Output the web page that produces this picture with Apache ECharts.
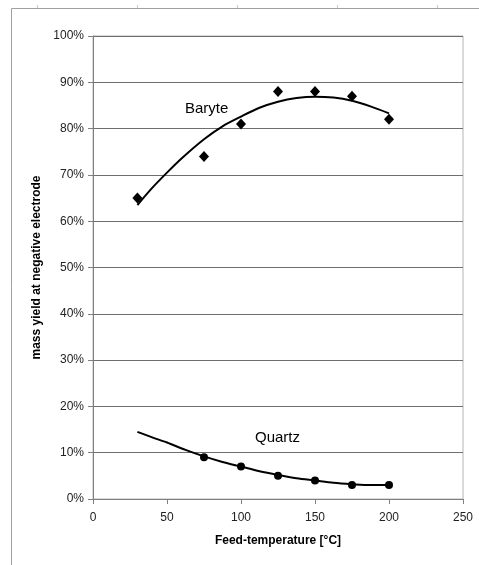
<!DOCTYPE html>
<html>
<head>
<meta charset="utf-8">
<script src="https://cdn.jsdelivr.net/npm/echarts@6/dist/echarts.min.js"></script>
<style>
html,body{margin:0;padding:0;background:#fff;}
#chart{width:479px;height:565px;}
</style>
</head>
<body>
<div id="chart"></div>
<script>
// Measured data points
var barytePoints = [[30, 65], [75, 74], [100, 81], [125, 88], [150, 88], [175, 87], [200, 82]];
var quartzPoints = [[75, 9], [100, 7], [125, 5], [150, 4], [175, 3], [200, 3]];
// Trend lines
var baryteTrend = [[30, 63.5], [40, 67.2], [50, 70.5], [60, 73.6], [75, 77.7], [87.5, 80.5], [100, 82.6], [112.5, 84.5], [125, 85.8], [137.5, 86.6], [150, 86.9], [162.5, 86.7], [175, 86.0], [187.5, 84.8], [200, 83.3]];
var quartzTrend = [[30, 14.5], [40, 13.3], [50, 12.2], [62.5, 10.6], [75, 9.2], [87.5, 8.0], [100, 7.0], [112.5, 6.0], [125, 5.2], [137.5, 4.5], [150, 4.0], [162.5, 3.5], [175, 3.2], [187.5, 3.0], [200, 3.0]];
var xTicks = [0, 50, 100, 150, 200, 250];
var yTicks = [0, 10, 20, 30, 40, 50, 60, 70, 80, 90, 100];

var FONT = 'Liberation Sans, Arial, sans-serif';
var chart = echarts.init(document.getElementById('chart'), null, {renderer: 'canvas'});
var frameTicks = [37, 137, 237, 337, 437].map(function (x) {
  return {type: 'line', shape: {x1: x + 0.5, y1: 5, x2: x + 0.5, y2: 8}, style: {stroke: '#c8c8c8', lineWidth: 1}};
});
chart.setOption({
  backgroundColor: '#fff',
  animation: false,
  grid: {left: 93, right: 16, top: 36, bottom: 66, show: true, borderColor: '#b4b4b4', borderWidth: 1},
  xAxis: {
    type: 'value', min: xTicks[0], max: xTicks[xTicks.length - 1], interval: 50,
    name: 'Feed-temperature [°C]', nameLocation: 'middle', nameGap: 36,
    nameTextStyle: {fontFamily: FONT, fontSize: 12, fontWeight: 'bold', color: '#000'},
    axisLine: {show: true, onZero: false, lineStyle: {color: '#808080', width: 1}},
    axisTick: {show: true, length: 5, lineStyle: {color: '#808080'}},
    axisLabel: {fontFamily: FONT, fontSize: 12, color: '#222', margin: 13},
    splitLine: {show: false}
  },
  yAxis: {
    type: 'value', min: yTicks[0], max: yTicks[yTicks.length - 1], interval: 10,
    name: 'mass yield at negative electrode', nameLocation: 'middle', nameGap: 47,
    nameTextStyle: {fontFamily: FONT, fontSize: 12, fontWeight: 'bold', color: '#000'},
    axisLine: {show: true, onZero: false, lineStyle: {color: '#808080', width: 1}},
    axisTick: {show: true, length: 5, lineStyle: {color: '#808080'}},
    axisLabel: {fontFamily: FONT, fontSize: 12, color: '#222', margin: 9, formatter: '{value}%'},
    splitLine: {show: true, lineStyle: {color: '#6e6e6e', width: 1}}
  },
  series: [
    {type: 'line', data: baryteTrend, smooth: 0.3, showSymbol: false, symbol: 'none',
     lineStyle: {color: '#000', width: 2}, z: 3},
    {type: 'scatter', data: barytePoints, symbol: 'diamond', symbolSize: [10, 11],
     itemStyle: {color: '#000', opacity: 1}, z: 4},
    {type: 'line', data: quartzTrend, smooth: 0.3, showSymbol: false, symbol: 'none',
     lineStyle: {color: '#000', width: 2}, z: 3},
    {type: 'scatter', data: quartzPoints, symbol: 'circle', symbolSize: 8,
     itemStyle: {color: '#000', opacity: 1}, z: 4}
  ],
  graphic: [
    {type: 'text', left: 185, top: 101, style: {text: 'Baryte', font: '15px ' + FONT, fill: '#000'}},
    {type: 'text', left: 255, top: 430, style: {text: 'Quartz', font: '15px ' + FONT, fill: '#000'}},
    {type: 'line', shape: {x1: 11.5, y1: 8.5, x2: 479, y2: 8.5}, style: {stroke: '#a0a0a0', lineWidth: 1}},
    {type: 'line', shape: {x1: 11.5, y1: 8.5, x2: 11.5, y2: 565}, style: {stroke: '#a0a0a0', lineWidth: 1}}
  ].concat(frameTicks)
});
</script>
</body>
</html>
